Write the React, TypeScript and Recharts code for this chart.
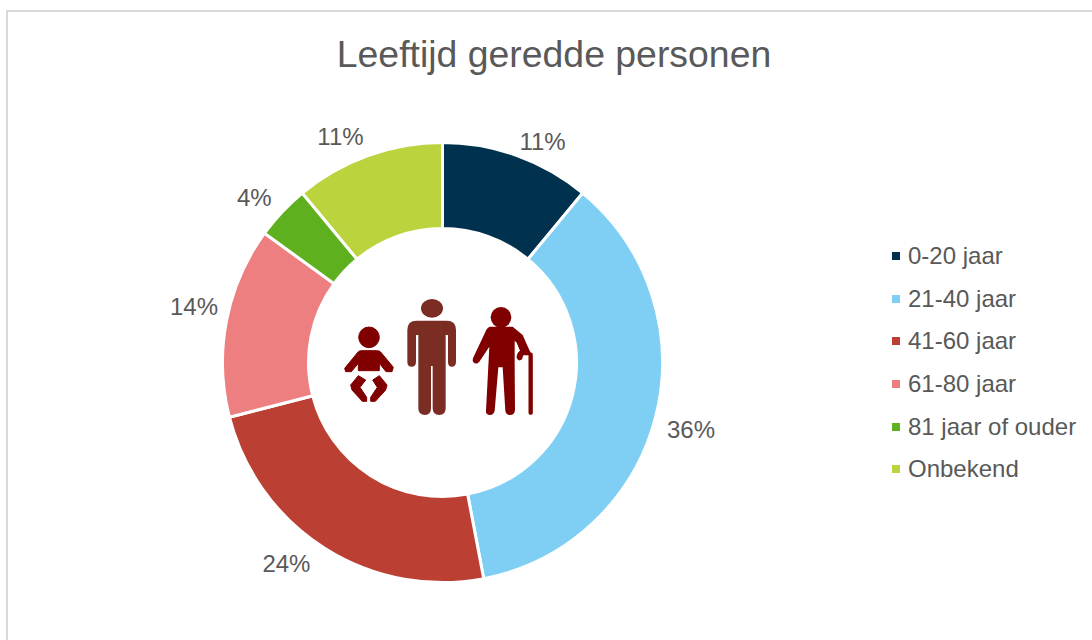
import { PieChart, Pie, Cell, Legend } from "recharts"

const categories = ["0-20 jaar", "21-40 jaar", "41-60 jaar", "61-80 jaar", "81 jaar of ouder", "Onbekend"]
const shares = [11, 36, 24, 14, 4, 11]
const colors = ["#00324f", "#7fcff5", "#bb4033", "#ee7f80", "#5fb01e", "#bbd33d"]

const data = categories.map((name, i) => ({ name, value: shares[i] }))
const FONT = "'Liberation Sans', Arial, sans-serif"
const TEXT = "#595959"

// the labels do not sit exactly on the mid angle of their slice
const labelNudge = [[14, 17.5], [2.5, 3.5], [-20, -13], [1, -8], [-3, 8.5], [-16, 12.5]]

function PercentLabel({ cx, cy, midAngle, outerRadius, value, index }: any) {
  const r = outerRadius + 34
  const a = (midAngle * Math.PI) / 180
  const [dx, dy] = labelNudge[index]
  return (
    <text x={cx + r * Math.cos(a) + dx} y={cy - r * Math.sin(a) + dy} textAnchor="middle" dominantBaseline="central"
      fontSize={24} fontFamily={FONT} fill={TEXT}>
      {value}%
    </text>
  )
}

function LegendList() {
  return (
    <div style={{ fontFamily: FONT, fontSize: 24, color: TEXT }}>
      {categories.map((c, i) => (
        <div key={c} style={{ height: 42.6, display: "flex", alignItems: "center", whiteSpace: "nowrap" }}>
          <span style={{ width: 8, height: 8, background: colors[i], marginRight: 8 }} />
          {c}
        </div>
      ))}
    </div>
  )
}

function People() {
  return (
    <svg width={240} height={150} viewBox="0 0 720 450"
      style={{ position: "absolute", left: 320, top: 280, pointerEvents: "none" }}>
      <g fill="#800000" stroke="#800000" strokeWidth={3} strokeLinejoin="round">
        <circle cx={147} cy={172} r={31} />
        <path d="M74,265 L115,215 Q118,212 125,212 H170 Q178,212 182,216 L220,262 L216,275 H198 L178,250 V272 H115 V250 L94,275 H77 Z" />
        <path d="M115,287 L92,315 L96,330 L127,364 H140 V352 L120,322 L137,300 Z" />
        <path d="M178,287 L201,315 L197,330 L166,364 H152 V352 L172,322 L158,300 Z" />
      </g>
      <g fill="#7b2c23">
        <ellipse cx={336} cy={85} rx={33} ry={28} />
        <path d="M290,122 H380 Q408,122 408,150 V245 Q408,260 395,260 Q384,260 384,245 V165 H377 V385 Q377,405 358,405 Q338,405 338,385 V258 H333 V385 Q333,405 315,405 Q295,405 295,385 V165 H288 V245 Q288,260 275,260 Q262,260 262,245 V150 Q262,122 290,122 Z" />
      </g>
      <g fill="#800000">
        <circle cx={543} cy={112} r={31} />
        <path d="M510,140 H578 L608,165 L628,210 L636,226 L610,226 L606,238 Q596,246 590,234 Q590,218 600,212 L590,188 L584,182 V262 L585,390 Q584,405 570,405 Q558,405 556,392 L548,262 H535 L524,392 Q520,405 510,405 Q497,405 498,392 L508,200 L478,245 Q468,256 459,245 Q456,238 462,228 L495,158 Q500,143 510,140 Z" />
      </g>
      <path d="M632,224 V398" fill="none" stroke="#800000" strokeWidth={13} strokeLinecap="round" />
    </svg>
  )
}

export default function App() {
  return (
    <div style={{ position: "absolute", left: 0, top: 0, width: 1092, height: 640, background: "#fff", overflow: "hidden" }}>
      <div style={{ position: "absolute", left: 6, top: 10, width: 1086, height: 630, boxSizing: "border-box",
        borderTop: "2px solid #d9d9d9", borderLeft: "2px solid #d9d9d9" }} />
      <div style={{ position: "absolute", left: 0, top: 31, width: 1108, textAlign: "center", fontFamily: FONT,
        fontSize: 37.4, lineHeight: "46px", color: TEXT }}>
        Leeftijd geredde personen
      </div>
      <PieChart width={1092} height={640} margin={{ top: 0, right: 0, bottom: 0, left: 0 }}
        style={{ position: "absolute", left: 0, top: 0 }}>
        <Pie data={data} dataKey="value" nameKey="name" cx={442.5} cy={362.5} innerRadius={134} outerRadius={220}
          startAngle={90} endAngle={-270} stroke="#fff" strokeWidth={3} label={PercentLabel} labelLine={false}
          isAnimationActive={false}>
          {data.map((d, i) => <Cell key={d.name} fill={colors[i]} />)}
        </Pie>
        <Legend content={<LegendList />} layout="vertical" align="right" verticalAlign="top"
          wrapperStyle={{ position: "absolute", left: 892, top: 235, width: 200 }} />
      </PieChart>
      <People />
    </div>
  )
}
